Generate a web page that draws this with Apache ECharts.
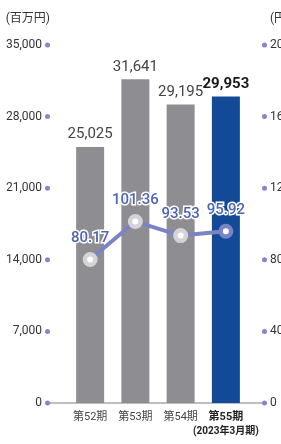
<!DOCTYPE html>
<html>
<head>
<meta charset="utf-8">
<script src="https://cdn.jsdelivr.net/npm/echarts@6/dist/echarts.min.js"></script>
<style>
  html, body { margin: 0; padding: 0; background: #fff; }
  #chart { width: 281px; height: 444px; }
</style>
</head>
<body>
<div id="chart"></div>
<script>
// data
const categories = ['第52期', '第53期', '第54期', '第55期']
const lastSub = '(2023年3月期)'
const salesValues = [25025, 31641, 29195, 29953]   // 百万円, left axis
const priceValues = [80.17, 101.36, 93.53, 95.92]  // 円, right axis
const leftTicks = { min: 0, max: 35000, interval: 7000 }
const rightTicks = { min: 0, max: 200, interval: 40 }

const font = 'Roboto, "Noto Sans CJK JP", sans-serif'
const dotColor = '#8288c4'
const gray = '#8e8e92'
const navy = '#134a97'
const lineColor = '#7a84c4'

const chart = echarts.init(document.getElementById('chart'))

const option = {
  backgroundColor: '#fff',
  animation: false,
  grid: {
    top: 45,
    bottom: 41,
    left: 67.5,
    right: 32.5,
    outerBoundsMode: 'none',
    containLabel: false,
  },
  xAxis: {
    type: 'category',
    data: categories,
    axisLine: { show: false },
    axisTick: { show: false },
    axisLabel: {
      interval: 0,
      hideOverlap: false,
      margin: 7,
      fontFamily: font,
      fontSize: 11,
      color: '#444',
      lineHeight: 14,
      formatter: (v, i) => i === categories.length - 1 ? '{b|' + v + '}\n{s|' + lastSub + '}' : v,
      rich: {
        b: { fontFamily: font, fontSize: 11, fontWeight: 'bold', color: '#222', lineHeight: 14 },
        s: { fontFamily: font, fontSize: 10, fontWeight: 'bold', color: '#222', lineHeight: 14 },
      },
    },
  },
  yAxis: [
    {
      type: 'value',
      ...leftTicks,
      position: 'left',
      offset: 17.5,
      name: '(百万円)',
      nameGap: 20,
      nameTextStyle: { fontFamily: font, fontSize: 12, color: '#333', align: 'right' },
      axisLine: { show: false },
      axisTick: { show: false },
      splitLine: { show: false },
      axisLabel: {
        margin: 0,
        formatter: v => '{v|' + v.toLocaleString('en-US') + '}{d| }',
        rich: {
          v: { fontFamily: font, fontSize: 12, color: '#333', padding: [0, 3, 0, 0] },
          d: { width: 5, height: 5, borderRadius: 2.5, backgroundColor: dotColor },
        },
      },
    },
    {
      type: 'value',
      ...rightTicks,
      position: 'right',
      offset: 13.5,
      name: '(円)',
      nameGap: 20,
      nameTextStyle: { fontFamily: font, fontSize: 12, color: '#333', align: 'left', padding: [0, 0, 0, 8] },
      axisLine: { show: false },
      axisTick: { show: false },
      splitLine: { show: false },
      axisLabel: {
        margin: 0,
        formatter: v => '{d| }{v|' + v + '}',
        rich: {
          v: { fontFamily: font, fontSize: 12, color: '#333', padding: [0, 0, 0, 3] },
          d: { width: 5, height: 5, borderRadius: 2.5, backgroundColor: dotColor },
        },
      },
    },
  ],
  graphic: [
    {
      type: 'line',
      z: 0,
      shape: { x1: 48, y1: 403, x2: 264, y2: 403 },
      style: { stroke: '#a8a8ac', lineWidth: 1.5 },
    },
  ],
  series: [
    {
      type: 'bar',
      yAxisIndex: 0,
      barWidth: 28,
      z: 2,
      data: salesValues.map((v, i) => {
        const last = i === salesValues.length - 1
        return {
          value: v,
          itemStyle: { color: last ? navy : gray },
          label: last ? { fontWeight: 'bold', color: '#1a1a1a' } : {},
        }
      }),
      label: {
        show: true,
        position: 'top',
        distance: 5,
        fontFamily: font,
        fontSize: 15,
        color: '#444',
        formatter: p => p.value.toLocaleString('en-US'),
      },
    },
    {
      type: 'line',
      yAxisIndex: 1,
      z: 5,
      symbol: 'circle',
      symbolSize: 10.5,
      lineStyle: { color: lineColor, width: 4 },
      itemStyle: { color: '#fff', borderColor: '#d4d4d6', borderWidth: 4.5 },
      data: priceValues.map((v, i) => ({
        value: v,
        itemStyle: i === priceValues.length - 1 ? { borderColor: lineColor } : undefined,
      })),
      label: {
        show: true,
        position: 'top',
        distance: 6,
        fontFamily: font,
        fontSize: 15,
        fontWeight: 500,
        color: '#4c64b4',
        textBorderColor: '#fff',
        textBorderWidth: 3,
        formatter: p => p.value.toFixed(2),
      },
    },
  ],
}

chart.setOption(option)
</script>
</body>
</html>
